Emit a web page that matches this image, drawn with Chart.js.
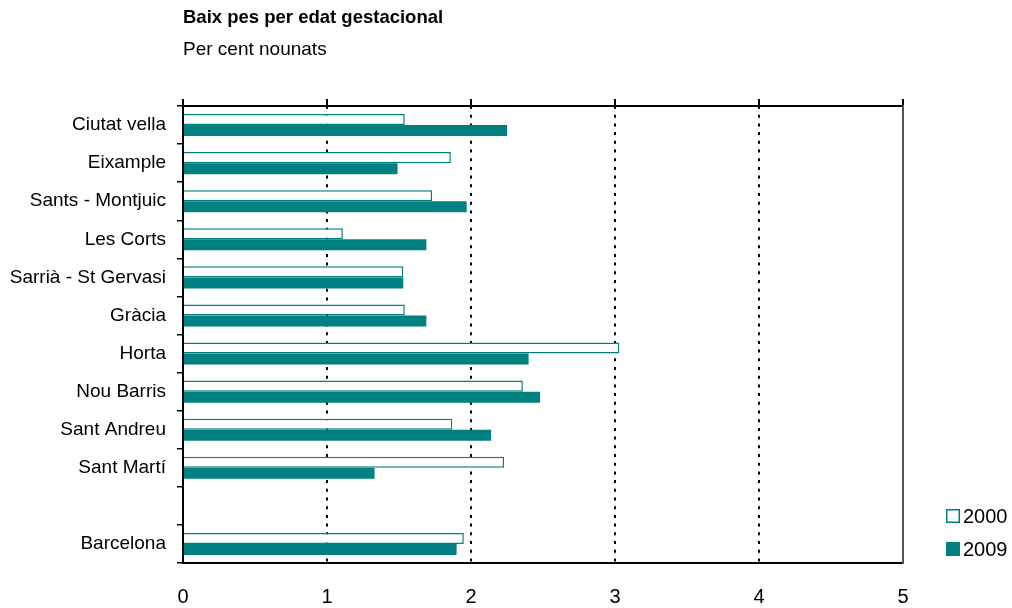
<!DOCTYPE html>
<html>
<head>
<meta charset="utf-8">
<script src="https://cdn.jsdelivr.net/npm/chart.js@4/dist/chart.umd.min.js"></script>
<style>
  body { margin: 0; background: #fff; }
  #wrap { width: 1012px; height: 608px; position: relative; }
</style>
</head>
<body>
<div id="wrap"><canvas id="lowWeightChart"></canvas></div>
<script>
const districts = ['Ciutat vella', 'Eixample', 'Sants - Montjuic', 'Les Corts', 'Sarrià - St Gervasi',
  'Gràcia', 'Horta', 'Nou Barris', 'Sant Andreu', 'Sant Martí', '', 'Barcelona'];
const values2000 = [1.54, 1.86, 1.73, 1.11, 1.53, 1.54, 3.03, 2.36, 1.87, 2.23, null, 1.95];
const values2009 = [2.25, 1.49, 1.97, 1.69, 1.53, 1.69, 2.40, 2.48, 2.14, 1.33, null, 1.90];
const xTicks = [0, 1, 2, 3, 4, 5];

const teal = '#008080';
const fontFamily = "'Liberation Sans', Arial, sans-serif";

// legend drawn by hand at the bottom right, like the original
const sideLegend = {
  id: 'sideLegend',
  afterDraw(chart) {
    const ctx = chart.ctx;
    ctx.save();
    chart.data.datasets.forEach(function(ds, i) {
      const y = 509 + i * 33;
      ctx.fillStyle = ds.backgroundColor;
      ctx.fillRect(946, y, 14, 14);
      ctx.strokeStyle = ds.borderColor;
      ctx.lineWidth = 1.5;
      ctx.strokeRect(946.75, y + 0.75, 12.5, 12.5);
      ctx.fillStyle = '#000';
      ctx.font = '20px ' + fontFamily;
      ctx.textBaseline = 'middle';
      ctx.fillText(ds.label, 963, y + 8);
    });
    ctx.restore();
  }
};

let ctx = document.getElementById('lowWeightChart').getContext('2d');
let chart = new Chart(ctx, {
  type: 'bar',
  data: {
    labels: districts,
    datasets: [{
      label: '2000',
      data: values2000,
      backgroundColor: '#ffffff',
      borderColor: teal,
      borderWidth: 1.5
    }, {
      label: '2009',
      data: values2009,
      backgroundColor: teal,
      borderColor: teal,
      borderWidth: 0
    }]
  },
  options: {
    indexAxis: 'y',
    responsive: true,
    maintainAspectRatio: false,
    animation: false,
    categoryPercentage: 0.58,
    barPercentage: 1.0,
    layout: { padding: { left: 0, right: 109, top: 0, bottom: 0 } },
    plugins: {
      legend: { display: false },
      tooltip: { enabled: false },
      title: {
        display: true,
        text: 'Baix pes per edat gestacional',
        align: 'start',
        fullSize: false,
        color: '#000',
        font: { family: fontFamily, size: 18.5, weight: 'bold' },
        padding: { top: 7, bottom: 0 }
      },
      subtitle: {
        display: true,
        text: 'Per cent nounats',
        align: 'start',
        fullSize: false,
        color: '#000',
        font: { family: fontFamily, size: 19 },
        padding: { top: 9, bottom: 38 }
      }
    },
    scales: {
      x: {
        position: 'bottom',
        min: 0,
        max: 5,
        afterBuildTicks: function(axis) { axis.ticks = xTicks.map(function(v) { return { value: v }; }); },
        ticks: { color: '#000', font: { family: fontFamily, size: 20 }, padding: 22 },
        grid: {
          color: function(c) { return c.tick && c.tick.value === 0 ? 'rgba(0,0,0,0)' : '#000'; },
          lineWidth: 2,
          drawTicks: false
        },
        border: { display: true, color: '#000', width: 2, dash: [3, 5.7] },
        afterFit: function(axis) { axis.height = 45; }
      },
      xTop: {
        type: 'linear',
        position: 'top',
        min: 0,
        max: 5,
        ticks: { display: false, stepSize: 1 },
        grid: { drawOnChartArea: false, drawTicks: true, tickLength: 7, color: '#000', lineWidth: 2 },
        border: { display: true, color: '#000', width: 2 }
      },
      y: {
        ticks: { color: '#000', font: { family: fontFamily, size: 19 }, padding: 11 },
        grid: { offset: true, drawOnChartArea: false, drawTicks: true, tickLength: 6, color: '#000', lineWidth: 1.5 },
        border: { display: true, color: '#000', width: 2 },
        afterFit: function(axis) { axis.width = 183; }
      },
      yRight: {
        type: 'linear',
        position: 'right',
        ticks: { display: false },
        grid: { drawOnChartArea: false, drawTicks: false },
        border: { display: true, color: '#555', width: 2 }
      }
    }
  },
  plugins: [sideLegend]
});
</script>
</body>
</html>
